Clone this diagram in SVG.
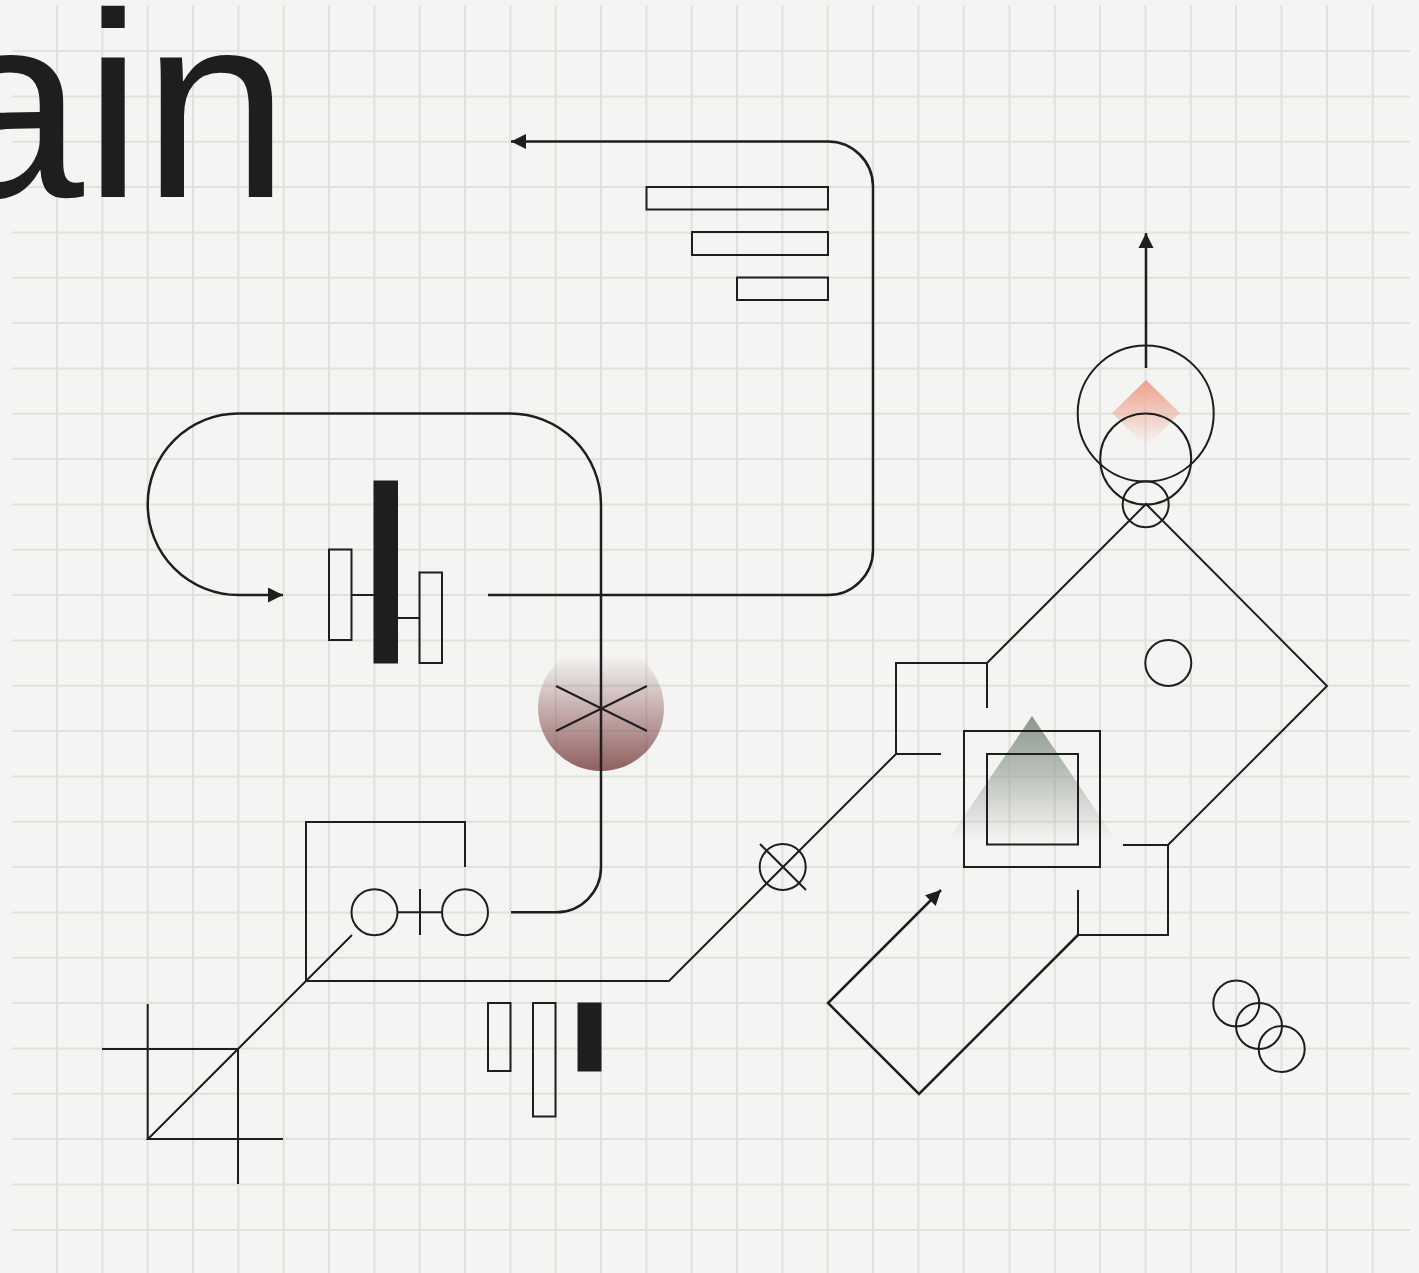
<svg xmlns="http://www.w3.org/2000/svg" width="1419" height="1273" viewBox="0 0 1419 1273">
<defs>
<style>
.g{stroke:#e0e1da;stroke-width:2;fill:none}
.t{stroke:#1e1e1e;stroke-width:2;fill:none}
.m{stroke:#1e1e1e;stroke-width:2.5;fill:none}
.k{fill:#1e1e1e;stroke:#1e1e1e;stroke-width:1}
</style>
<linearGradient id="gb" gradientUnits="userSpaceOnUse" x1="0" y1="655" x2="0" y2="771"><stop offset="0" stop-color="#854f4f" stop-opacity="0"/><stop offset="1" stop-color="#854f4f" stop-opacity=".9"/></linearGradient>
<linearGradient id="gt" x1="0" y1="0" x2="0" y2="1"><stop offset="0" stop-color="#8a968a"/><stop offset="1" stop-color="#8a968a" stop-opacity="0"/></linearGradient>
<linearGradient id="gd" gradientUnits="userSpaceOnUse" x1="0" y1="380" x2="0" y2="444"><stop offset="0" stop-color="#eea08c"/><stop offset="1" stop-color="#eea08c" stop-opacity="0"/></linearGradient>
<marker id="a" markerUnits="userSpaceOnUse" markerWidth="16" markerHeight="16" refX="15" refY="8" orient="auto"><path d="M0 0.500L15 8L0 15.500Z" fill="#1e1e1e"/></marker>
</defs>
<rect width="1419" height="1273" fill="#f4f4f2"/>
<g id="grid">
<path class="g" d="M57 5V1273M102.400 5V1273M147.700 5V1273M193 5V1273M238.400 5V1273M283.700 5V1273M329 5V1273M374.400 5V1273M419.700 5V1273M465 5V1273M510.400 5V1273M555.700 5V1273M601 5V1273M646.400 5V1273M691.700 5V1273M737 5V1273M782.400 5V1273M827.700 5V1273M873 5V1273M918.400 5V1273M963.700 5V1273M1009.500 5V1273M1054.800 5V1273M1100 5V1273M1145.500 5V1273M1190.800 5V1273M1236 5V1273M1281.500 5V1273M1327 5V1273M1372.700 5V1273"/>
<path class="g" d="M12 51H1410M12 96.400H1410M12 141.700H1410M12 187H1410M12 232.400H1410M12 277.700H1410M12 323H1410M12 368.400H1410M12 413.700H1410M12 459H1410M12 504.400H1410M12 549.700H1410M12 595H1410M12 640.400H1410M12 685.700H1410M12 731H1410M12 776.400H1410M12 821.700H1410M12 867H1410M12 912.400H1410M12 957.700H1410M12 1003H1410M12 1048.400H1410M12 1093.700H1410M12 1139H1410M12 1184.600H1410M12 1230H1410"/>
</g>
<text id="title" x="-63" y="197" font-family="Liberation Sans, Arial, sans-serif" font-size="264" fill="#1e1e1e">ain</text>
<g id="fills">
<circle cx="601" cy="708" r="63" fill="url(#gb)"/>
<path d="M1032 716L1116 840H948Z" fill="url(#gt)"/>
<path d="M1146 380L1180 413L1146 447L1112 413Z" fill="url(#gd)"/>
</g>
<g id="connectors">
<path class="m" marker-end="url(#a)" d="M488 595H828A45 45 0 0 0 873 550V186A45 45 0 0 0 828 141.500H511"/>
<path class="m" marker-end="url(#a)" d="M511 912.300H556A45 45 0 0 0 601 867V504A91 91 0 0 0 510 413.500H238.400A90.700 90.700 0 0 0 147.700 504.200A90.700 90.700 0 0 0 238.400 595H283"/>
<path class="m" marker-end="url(#a)" d="M1146 368V233"/>
<path class="m" marker-end="url(#a)" d="M1078 935L919 1094L828 1003L941 890"/>
<path class="t" d="M465 867V822H306V981H669L896 754H941"/>
<path class="t" d="M352 935L148 1139H283M238 1184V1049H102M147.700 1004V1139"/>
<path class="t" d="M896 754V663H987V708M987 663L1146 504L1327 686L1168 845H1123M1168 845V935H1078V890"/>
</g>
<g id="bars-top"><rect class="t" x="646.500" y="187" width="181.500" height="22.500"/><rect class="t" x="692" y="232" width="136" height="23"/><rect class="t" x="737" y="277.500" width="91" height="22.500"/></g>
<g id="node-h"><rect class="t" x="329" y="549.500" width="22.500" height="90.500"/><rect class="k" x="374" y="481" width="23.500" height="182"/><rect class="t" x="419.500" y="572.500" width="22.500" height="90.500"/><path class="t" d="M352 595H374M398 618H420"/></g>
<g id="node-cross"><path class="t" d="M556 686L647 731M556 731L647 686"/></g>
<g id="node-dumbbell"><circle class="t" cx="374.500" cy="912.300" r="23"/><circle class="t" cx="465" cy="912.300" r="23"/><path class="t" d="M397 912.300H442M420 889V935"/></g>
<g id="node-xcircle"><circle class="t" cx="782.700" cy="867" r="23"/><path class="t" d="M760 844L806 890"/></g>
<g id="bars-bottom"><rect class="t" x="488" y="1003" width="22.500" height="68"/><rect class="t" x="533" y="1003" width="22.500" height="113.500"/><rect class="k" x="578" y="1003" width="23" height="68"/></g>
<g id="node-squares"><rect class="t" x="964" y="731" width="136" height="136"/><rect class="t" x="987" y="754" width="91" height="90.500"/></g>
<g id="node-dot"><circle class="t" cx="1168.300" cy="663" r="23"/></g>
<g id="node-stack"><circle class="t" cx="1145.700" cy="413.500" r="68"/><circle class="t" cx="1145.700" cy="459" r="45.500"/><circle class="t" cx="1145.700" cy="504.300" r="23"/></g>
<g id="node-chain"><circle class="t" cx="1236.300" cy="1003.500" r="23"/><circle class="t" cx="1259" cy="1026" r="23"/><circle class="t" cx="1281.700" cy="1049" r="23"/></g>
</svg>
